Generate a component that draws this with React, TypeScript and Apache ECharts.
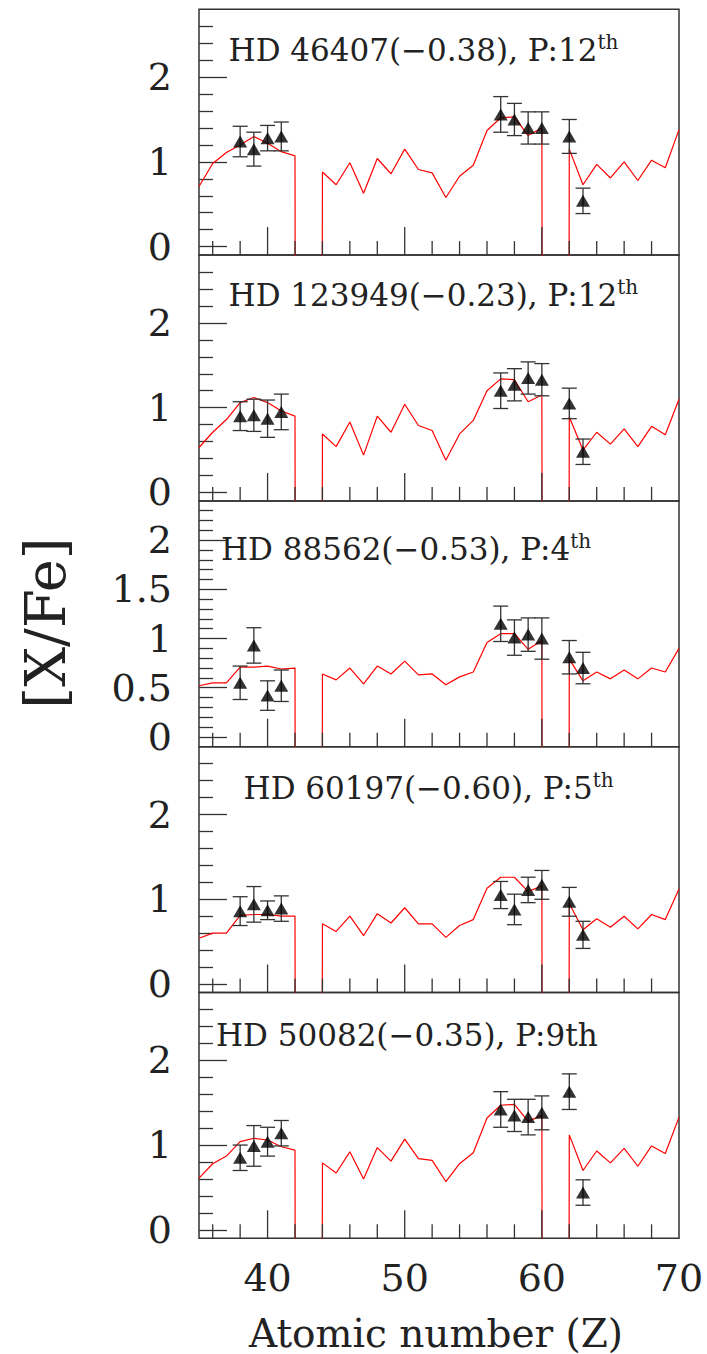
import React, { useEffect, useRef } from "react";
import * as echarts from "echarts";

// Atomic numbers of the model curve (Tc=43 and Pm=61 are off-scale in the model)
const MODEL_Z = [35, 36, 37, 38, 39, 40, 41, 42, 43, 44, 45, 46, 47, 48, 49, 50, 51, 52, 53, 54, 55, 56, 57, 58, 59, 60, 61, 62, 63, 64, 65, 66, 67, 68, 69, 70];
const OFF = -99;

const MODEL_HD46407 = [0.71, 0.98, 1.11, 1.2, 1.3, 1.22, 1.12, 1.07, OFF, 0.88, 0.73, 0.99, 0.63, 1.04, 0.86, 1.15, 0.91, 0.87, 0.58, 0.83, 0.96, 1.37, 1.52, 1.53, 1.31, 1.4, OFF, 1.15, 0.73, 0.97, 0.81, 1.0, 0.78, 1.02, 0.93, 1.38];
const MODEL_HD123949 = [0.53, 0.71, 0.86, 1.06, 1.12, 1.06, 0.96, 0.9, OFF, 0.69, 0.54, 0.83, 0.44, 0.9, 0.71, 1.04, 0.79, 0.73, 0.38, 0.69, 0.85, 1.2, 1.34, 1.33, 1.07, 1.15, OFF, 0.89, 0.5, 0.71, 0.57, 0.75, 0.54, 0.78, 0.68, 1.1];
const MODEL_HD88562 = [0.52, 0.55, 0.55, 0.71, 0.71, 0.72, 0.69, 0.7, OFF, 0.64, 0.58, 0.7, 0.54, 0.72, 0.64, 0.77, 0.63, 0.64, 0.53, 0.61, 0.66, 0.96, 1.05, 1.05, 0.89, 0.98, OFF, 0.79, 0.57, 0.66, 0.59, 0.68, 0.59, 0.7, 0.66, 0.9];
const MODEL_HD60197 = [0.54, 0.6, 0.6, 0.81, 0.82, 0.82, 0.8, 0.8, OFF, 0.71, 0.62, 0.8, 0.57, 0.83, 0.72, 0.9, 0.71, 0.71, 0.55, 0.69, 0.76, 1.13, 1.26, 1.26, 1.09, 1.16, OFF, 0.95, 0.64, 0.77, 0.67, 0.8, 0.65, 0.82, 0.76, 1.12];
const MODEL_HD50082 = [0.61, 0.78, 0.87, 1.04, 1.08, 1.06, 0.98, 0.94, OFF, 0.79, 0.67, 0.92, 0.6, 0.97, 0.81, 1.07, 0.84, 0.82, 0.57, 0.78, 0.91, 1.32, 1.47, 1.48, 1.28, 1.35, OFF, 1.12, 0.7, 0.93, 0.79, 0.96, 0.75, 0.99, 0.9, 1.33];

// Observed abundances: Sr, Y, Zr, Nb, La, Ce, Pr, Nd, Sm, Eu
const OBS_Z = [38, 39, 40, 41, 57, 58, 59, 60, 62, 63];
const OBS_HD46407 = [1.24, 1.15, 1.28, 1.3, 1.56, 1.5, 1.4, 1.4, 1.3, 0.54];
const ERR_HD46407 = [0.18, 0.2, 0.15, 0.17, 0.21, 0.19, 0.19, 0.19, 0.2, 0.15];
const OBS_HD123949 = [0.9, 0.91, 0.87, 0.95, 1.2, 1.27, 1.35, 1.33, 1.05, 0.48];
const ERR_HD123949 = [0.17, 0.19, 0.22, 0.21, 0.21, 0.19, 0.19, 0.19, 0.18, 0.15];
const OBS_HD88562 = [0.55, 0.93, 0.42, 0.52, 1.15, 1.01, 1.04, 1.0, 0.81, 0.7];
const ERR_HD88562 = [0.17, 0.18, 0.15, 0.16, 0.18, 0.18, 0.17, 0.21, 0.17, 0.16];
const OBS_HD60197 = [0.86, 0.94, 0.87, 0.89, 1.05, 0.88, 1.11, 1.17, 0.97, 0.58];
const ERR_HD60197 = [0.17, 0.21, 0.11, 0.15, 0.16, 0.18, 0.15, 0.17, 0.17, 0.16];
const OBS_HD50082 = [0.85, 0.99, 1.04, 1.14, 1.42, 1.35, 1.33, 1.38, 1.63, 0.44];
const ERR_HD50082 = [0.15, 0.24, 0.17, 0.15, 0.21, 0.19, 0.21, 0.2, 0.21, 0.15];

const STAR_NAMES = ["HD 46407", "HD 123949", "HD 88562", "HD 60197", "HD 50082"];
const STAR_FEH = ["\u22120.38", "\u22120.23", "\u22120.53", "\u22120.60", "\u22120.35"];
const STAR_P = ["12", "12", "4", "5", "9"];
const STAR_P_SUPERSCRIPT = [true, true, true, true, false];

// Tick values
const X_MAJOR = [40, 50, 60];
const X_MINOR = [36, 38, 42, 44, 46, 48, 52, 54, 56, 58, 62, 64, 66, 68];
const X_LABELS = [40, 50, 60, 70];
const Y_MAJOR = [0, 1, 2];
const Y_MINOR = [0.2, 0.4, 0.6, 0.8, 1.2, 1.4, 1.6, 1.8, 2.2, 2.4, 2.6];
const Y_MAJOR_FINE = [0, 0.5, 1, 1.5, 2];
const Y_MINOR_FINE = [0.1, 0.2, 0.3, 0.4, 0.6, 0.7, 0.8, 0.9, 1.1, 1.2, 1.3, 1.4, 1.6, 1.7, 1.8, 1.9, 2.1, 2.2, 2.3];

const Y_RANGES: [number, number][] = [[-0.1, 2.8], [-0.1, 2.8], [-0.1, 2.4], [-0.1, 2.8], [-0.1, 2.8]];

const MODELS = [MODEL_HD46407, MODEL_HD123949, MODEL_HD88562, MODEL_HD60197, MODEL_HD50082];
const OBS = [OBS_HD46407, OBS_HD123949, OBS_HD88562, OBS_HD60197, OBS_HD50082];
const ERRS = [ERR_HD46407, ERR_HD123949, ERR_HD88562, ERR_HD60197, ERR_HD50082];

const FONT = "'DejaVu Serif', serif";
const INK = "#222";
const AXIS = "#333";

const GRID_LEFT = 199;
const GRID_W = 480;
const GRID_TOP = 9.3;
const GRID_H = 245.8;
const MAJOR_LEN = 28;
const MINOR_LEN = 14;
const TITLE_X = [228.6, 228.6, 221, 243.6, 216];
const TITLE_Y = [50, 295, 549, 787.5, 1035];

export default function App() {
  const ref = useRef<HTMLDivElement>(null);
  useEffect(() => {
    document.body.style.margin = "0";
    if (!ref.current) return;
    const chart = echarts.init(ref.current, undefined, { renderer: "svg" });
    const n = STAR_NAMES.length;
    const grid: any[] = [];
    const xAxis: any[] = [];
    const yAxis: any[] = [];
    const series: any[] = [];
    const graphic: any[] = [];
    for (let i = 0; i < n; i++) {
      grid.push({
        left: GRID_LEFT,
        width: GRID_W,
        top: GRID_TOP + i * GRID_H,
        height: GRID_H,
        show: true,
        borderColor: AXIS,
        borderWidth: 1.5,
        backgroundColor: "transparent",
      });
      const last = i === n - 1;
      xAxis.push({
        gridIndex: i,
        type: "value",
        position: "bottom",
        min: 35,
        max: 70,
        axisLine: { show: false, onZero: false },
        splitLine: { show: false },
        axisTick: { show: false },
        axisLabel: last
          ? { show: true, customValues: X_LABELS, margin: 21, fontSize: 38, fontFamily: FONT, color: INK }
          : { show: false },
      });
      const fine = i === 2;
      const [ymin, ymax] = Y_RANGES[i];
      yAxis.push({
        gridIndex: i,
        type: "value",
        position: "left",
        min: ymin,
        max: ymax,
        axisLine: { show: false, onZero: false },
        splitLine: { show: false },
        axisTick: { show: true, inside: true, length: MAJOR_LEN, customValues: fine ? Y_MAJOR_FINE : Y_MAJOR, lineStyle: { color: AXIS, width: 1.3 } },
        axisLabel: { show: true, customValues: fine ? Y_MAJOR_FINE : Y_MAJOR, margin: 27, fontSize: 38, fontFamily: FONT, color: INK },
      });
      yAxis.push({
        gridIndex: i,
        type: "value",
        position: "left",
        min: ymin,
        max: ymax,
        axisLine: { show: false, onZero: false },
        splitLine: { show: false },
        axisTick: { show: true, inside: true, length: MINOR_LEN, customValues: fine ? Y_MINOR_FINE : Y_MINOR, lineStyle: { color: AXIS, width: 1.3 } },
        axisLabel: { show: false },
      });
      // x-axis tick marks (inside, rising from the bottom edge), placed through the x scale
      series.push({
        type: "custom",
        xAxisIndex: i,
        yAxisIndex: 2 * i,
        data: [...X_MAJOR.map((v) => [v, 1, 1]), ...X_MINOR.map((v) => [v, 1, 0])],
        encode: { x: 0, y: 1 },
        z: 3,
        renderItem: (params: any, api: any) => {
          const p = api.coord([api.value(0), api.value(1)]);
          const cs = params.coordSys;
          const bottom = cs && typeof cs.height === "number" ? cs.y + cs.height : api.coord([api.value(0), ymin])[1];
          const len = api.value(2) === 1 ? MAJOR_LEN : MINOR_LEN;
          const st = { stroke: AXIS, lineWidth: 1.3 };
          return {
            type: "group",
            children: [{ type: "line", shape: { x1: p[0], y1: bottom, x2: p[0], y2: bottom - len }, style: st }],
          };
        },
      });
      const model = MODELS[i];
      series.push({
        type: "line",
        xAxisIndex: i,
        yAxisIndex: 2 * i,
        data: MODEL_Z.map((z, k) => [z, model[k]]),
        showSymbol: false,
        symbol: "none",
        clip: true,
        lineStyle: { color: "#ff0000", width: 1.2 },
        z: 2,
      });
      const obs = OBS[i];
      const err = ERRS[i];
      series.push({
        type: "custom",
        xAxisIndex: i,
        yAxisIndex: 2 * i,
        data: OBS_Z.map((z, k) => [z, obs[k] - err[k], obs[k] + err[k]]),
        encode: { x: 0, y: [1, 2] },
        z: 3,
        renderItem: (params: any, api: any) => {
          const x = api.value(0);
          const lo = api.coord([x, api.value(1)]);
          const hi = api.coord([x, api.value(2)]);
          const hw = 7.5;
          const st = { stroke: AXIS, lineWidth: 1.3 };
          return {
            type: "group",
            children: [
              { type: "line", shape: { x1: lo[0], y1: lo[1], x2: hi[0], y2: hi[1] }, style: st },
              { type: "line", shape: { x1: lo[0] - hw, y1: lo[1], x2: lo[0] + hw, y2: lo[1] }, style: st },
              { type: "line", shape: { x1: hi[0] - hw, y1: hi[1], x2: hi[0] + hw, y2: hi[1] }, style: st },
            ],
          };
        },
      });
      series.push({
        type: "scatter",
        xAxisIndex: i,
        yAxisIndex: 2 * i,
        data: OBS_Z.map((z, k) => [z, obs[k]]),
        symbol: "triangle",
        symbolSize: [14, 12],
        itemStyle: { color: "#000" },
        z: 4,
      });
      const main = `${STAR_NAMES[i]}(${STAR_FEH[i]}), P:${STAR_P[i]}`;
      const text = STAR_P_SUPERSCRIPT[i] ? `{m|${main}}{s|th}` : `{m|${main}th}`;
      graphic.push({
        type: "text",
        x: TITLE_X[i],
        y: TITLE_Y[i],
        z: 10,
        style: {
          text,
          align: "left",
          verticalAlign: "middle",
          rich: {
            m: { fontSize: 31, fontFamily: FONT, fill: INK, lineHeight: 36 },
            s: { fontSize: 20, fontFamily: FONT, fill: INK, lineHeight: 22, verticalAlign: "top" },
          },
        },
      });
    }
    graphic.push({
      type: "text",
      x: 45,
      y: 623,
      rotation: Math.PI / 2,
      style: { text: "[X/Fe]", align: "center", verticalAlign: "middle", fontSize: 56, fontFamily: FONT, fill: INK },
    });
    graphic.push({
      type: "text",
      x: 436,
      y: 1333,
      style: { text: "Atomic number (Z)", align: "center", verticalAlign: "middle", fontSize: 39, fontFamily: FONT, fill: INK },
    });
    chart.setOption({
      animation: false,
      backgroundColor: "#fff",
      grid,
      xAxis,
      yAxis,
      series,
      graphic,
    });
    return () => chart.dispose();
  }, []);
  return <div ref={ref} style={{ width: 707, height: 1354 }} />;
}
